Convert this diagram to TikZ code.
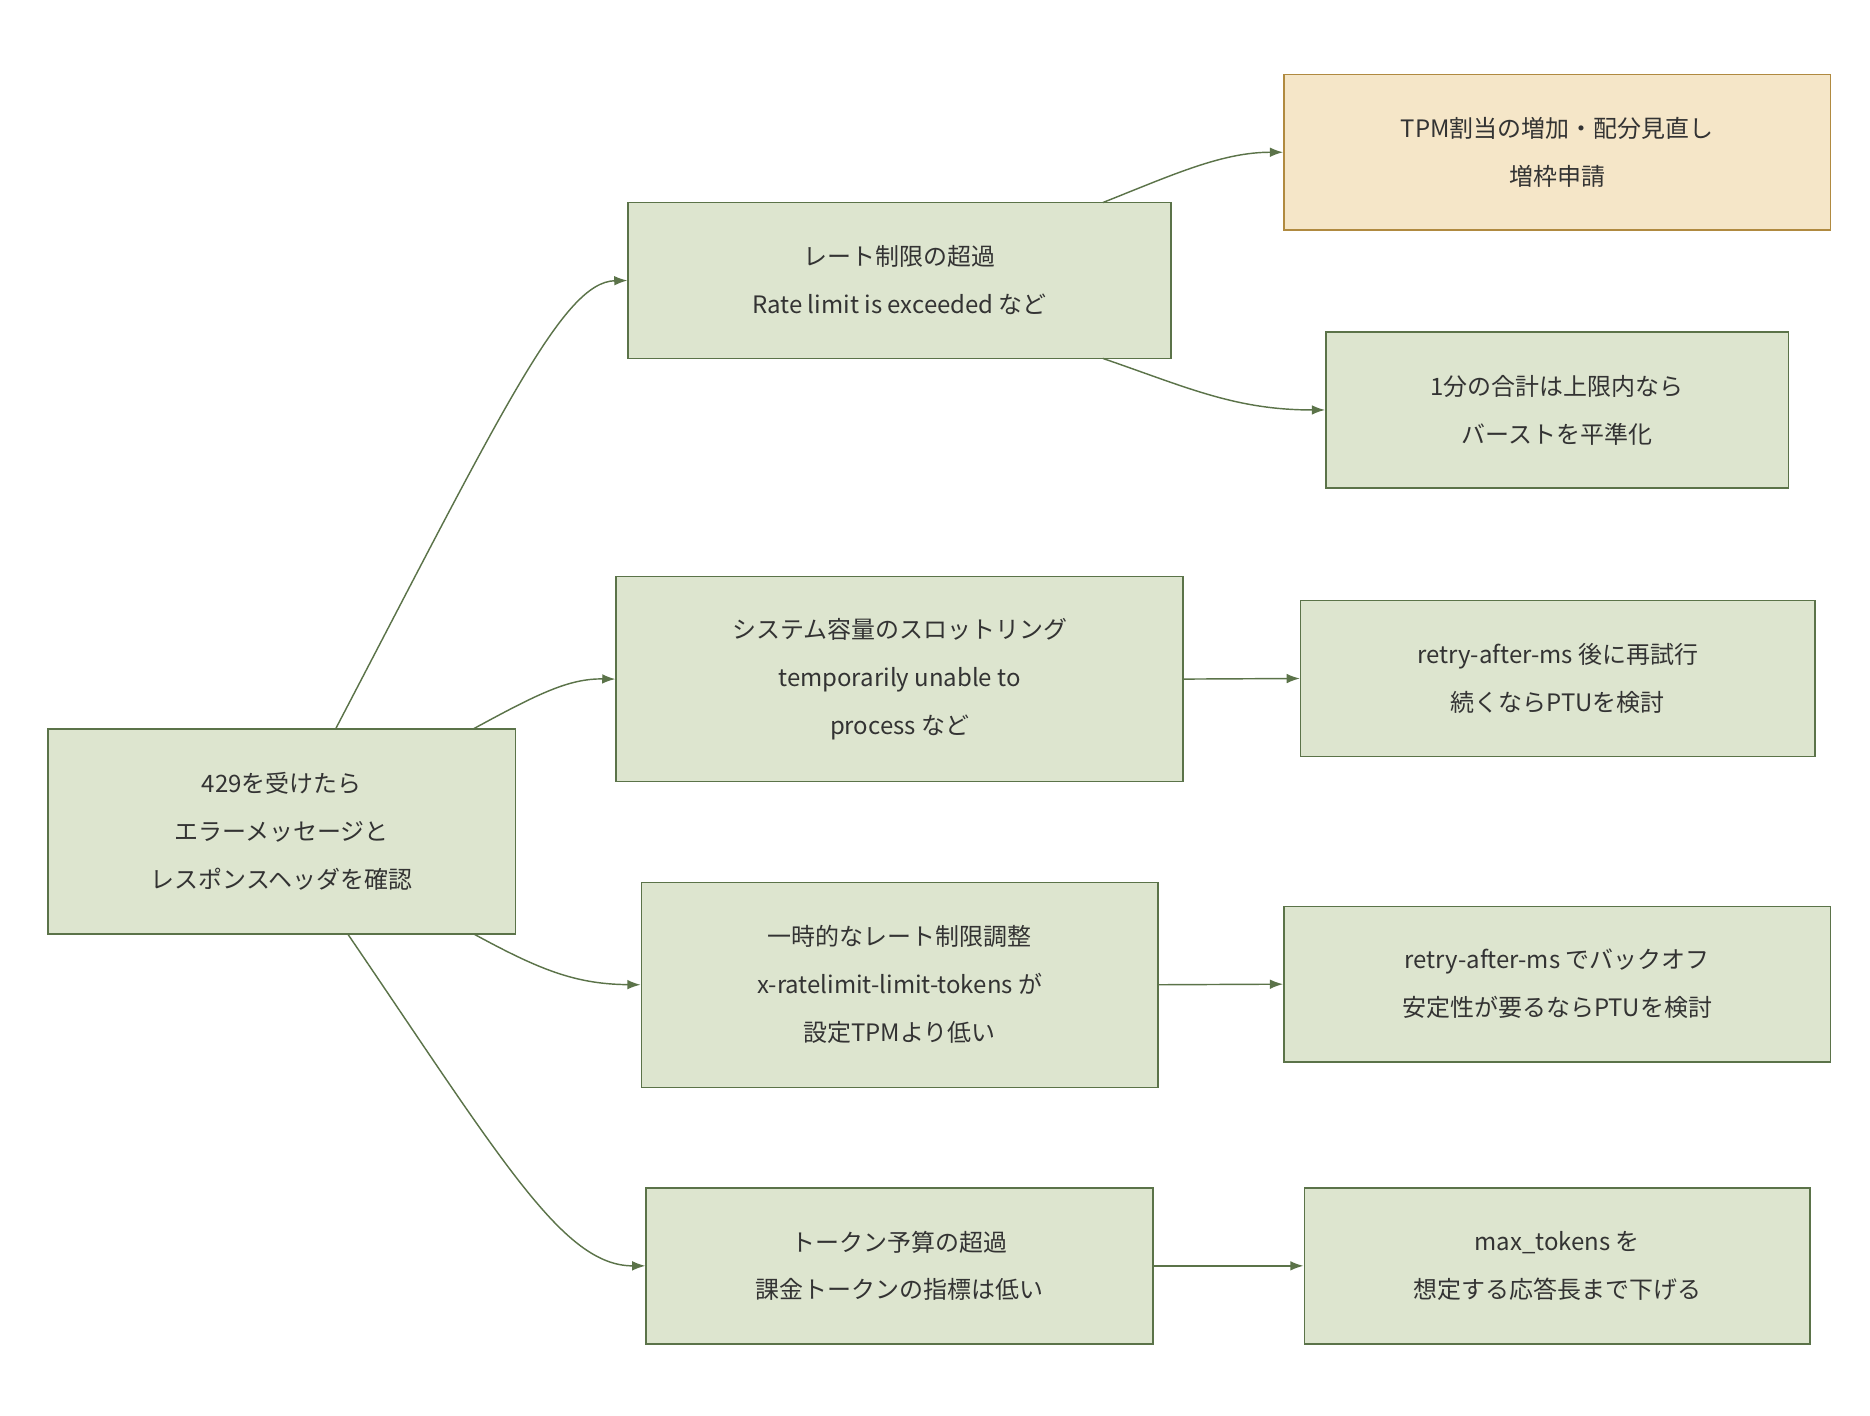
\documentclass[tikz,border=0pt]{standalone}
\usepackage{fontspec}
\setmainfont{Noto Sans CJK JP}
\usetikzlibrary{arrows.meta}
\definecolor{gfill}{HTML}{DDE5CF}
\definecolor{gline}{HTML}{5B7349}
\definecolor{ofill}{HTML}{F5E6C8}
\definecolor{oline}{HTML}{B08A40}
\begin{document}
\begin{tikzpicture}[x=1pt,y=-1pt,
  box/.style={draw=gline,fill=gfill,line width=1.2pt,align=center,inner sep=0pt,
     font=\fontsize{20}{40}\selectfont,text=black!80},
  obox/.style={box,draw=oline,fill=ofill},
  edge/.style={draw=gline,line width=1.2pt,-{Latex[length=11pt,width=8pt]}}]
\useasboundingbox (0,0) rectangle (1560,1181);
\newcommand\bx[6]{\node[#1,minimum width=#4-#2,minimum height=#5-#3] (#6) at ({(#2+#4)/2},{(#3+#5)/2})}
\bx{box}{40}{608}{430}{779}{A} {429を受けたら\\エラーメッセージと\\レスポンスヘッダを確認};
\bx{box}{524}{169}{977}{299}{B1} {レート制限の超過\\Rate limit is exceeded など};
\bx{box}{514}{481}{987}{652}{B2} {システム容量のスロットリング\\temporarily unable to\\process など};
\bx{box}{535}{736}{966}{907}{B3} {一時的なレート制限調整\\x-ratelimit-limit-tokens が\\設定TPMより低い};
\bx{box}{539}{991}{962}{1121}{B4} {トークン予算の超過\\課金トークンの指標は低い};
\bx{obox}{1071}{62}{1527}{192}{C1} {TPM割当の増加・配分見直し\\増枠申請};
\bx{box}{1106}{277}{1492}{407}{C2} {1分の合計は上限内なら\\バーストを平準化};
\bx{box}{1085}{501}{1514}{631}{C3} {retry-after-ms 後に再試行\\続くならPTUを検討};
\bx{box}{1071}{756}{1527}{886}{C4} {retry-after-ms でバックオフ\\安定性が要るならPTUを検討};
\bx{box}{1088}{991}{1510}{1121}{C5} {max\_tokens を\\想定する応答長まで下げる};
\coordinate (a1) at (280,608);
\coordinate (a2) at (395,608);
\coordinate (a3) at (395,779);
\coordinate (a4) at (290,779);
\coordinate (b1t) at (920,169);
\coordinate (b1b) at (920,299);
\draw[edge] (a1) .. controls (420,340) and (470,235) .. (B1.west);
\draw[edge] (a2) .. controls (450,578) and (475,566) .. (B2.west);
\draw[edge] (a3) .. controls (450,809) and (480,821) .. (B3.west);
\draw[edge] (a4) .. controls (420,970) and (470,1056) .. (B4.west);
\draw[edge] (b1t) .. controls (980,145) and (1020,127) .. (C1.west);
\draw[edge] (b1b) .. controls (990,323) and (1030,342) .. (C2.west);
\draw[edge] (B2.east) -- (C3.west);
\draw[edge] (B3.east) -- (C4.west);
\draw[edge] (B4.east) -- (C5.west);
\end{tikzpicture}
\end{document}
